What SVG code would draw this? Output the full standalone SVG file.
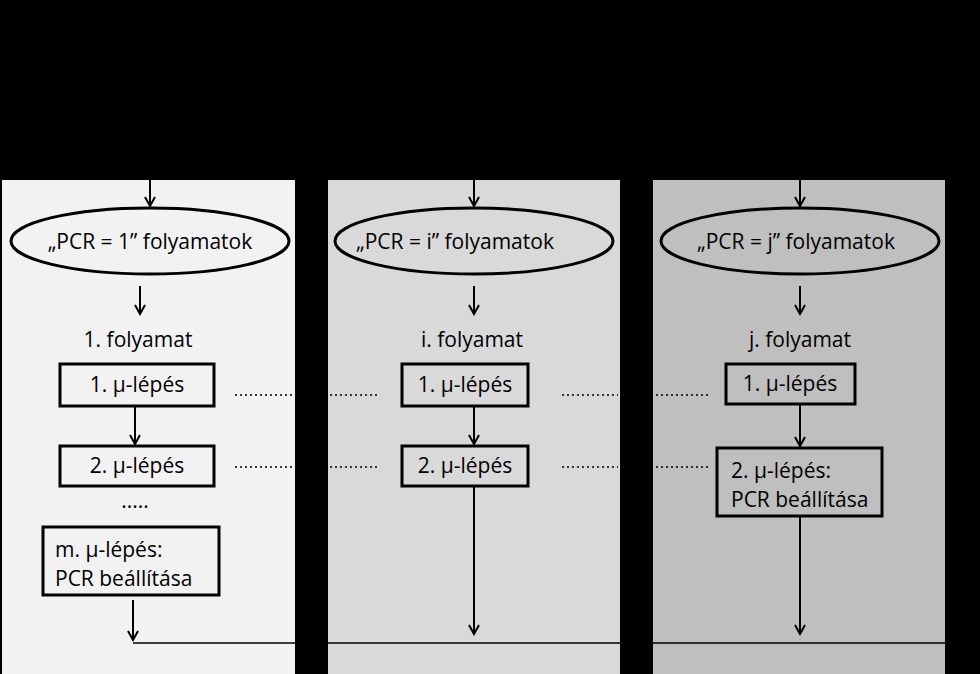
<svg xmlns="http://www.w3.org/2000/svg" width="980" height="674" viewBox="0 0 980 674">
<defs>
<marker id="ah" markerWidth="12" markerHeight="12" refX="10" refY="6" orient="auto" markerUnits="userSpaceOnUse"><path d="M1,1 L10,6 L1,11" fill="none" stroke="#000" stroke-width="2"/></marker>
<style>
text{font-family:"Open Sans","Liberation Sans",sans-serif;font-size:21px;fill:#000;text-anchor:middle}
.b{fill:none;stroke:#000;stroke-width:3}
.c{stroke:#000;stroke-width:2;fill:none}
.d{stroke:#000;stroke-width:1.5;stroke-dasharray:2 3;fill:none}
</style>
</defs>
<rect width="980" height="674" fill="#000"/>
<rect x="2" y="180" width="293" height="494" fill="#f2f2f2"/>
<rect x="328" y="180" width="292" height="494" fill="#d9d9d9"/>
<rect x="653" y="180" width="292" height="494" fill="#bfbfbf"/>
<g id="connectors">
<line class="c" x1="150" y1="180" x2="150" y2="206" marker-end="url(#ah)"/>
<line class="c" x1="474" y1="180" x2="474" y2="206" marker-end="url(#ah)"/>
<line class="c" x1="800" y1="180" x2="800" y2="206" marker-end="url(#ah)"/>
<line class="c" x1="140" y1="286" x2="140" y2="314" marker-end="url(#ah)"/>
<line class="c" x1="474" y1="286" x2="474" y2="314" marker-end="url(#ah)"/>
<line class="c" x1="800" y1="286" x2="800" y2="314" marker-end="url(#ah)"/>
<line class="c" x1="135" y1="406" x2="135" y2="444" marker-end="url(#ah)"/>
<line class="c" x1="474" y1="406" x2="474" y2="444" marker-end="url(#ah)"/>
<line class="c" x1="800" y1="404" x2="800" y2="446" marker-end="url(#ah)"/>
<line class="c" x1="474" y1="486" x2="474" y2="634" marker-end="url(#ah)"/>
<line class="c" x1="800" y1="516" x2="800" y2="634" marker-end="url(#ah)"/>
<line class="c" x1="133" y1="600" x2="133" y2="640" marker-end="url(#ah)"/>
<line stroke="#000" stroke-width="1.5" x1="133" y1="643" x2="945" y2="643"/>
<line class="d" x1="235" y1="395" x2="292" y2="395"/>
<line class="d" x1="330" y1="395" x2="380" y2="395"/>
<line class="d" x1="562" y1="395" x2="618" y2="395"/>
<line class="d" x1="656" y1="395" x2="708" y2="395"/>
<line class="d" x1="235" y1="467" x2="292" y2="467"/>
<line class="d" x1="330" y1="467" x2="380" y2="467"/>
<line class="d" x1="562" y1="467" x2="618" y2="467"/>
<line class="d" x1="656" y1="467" x2="708" y2="467"/>
</g>
<g id="e1"><ellipse class="b" cx="150" cy="241" rx="139" ry="33"/><text x="150" y="249">„PCR = 1” folyamatok</text></g>
<g id="e2"><ellipse class="b" cx="474" cy="241" rx="139" ry="33"/><text x="455" y="249">„PCR = i” folyamatok</text></g>
<g id="e3"><ellipse class="b" cx="800" cy="241" rx="139" ry="33"/><text x="796" y="249">„PCR = j” folyamatok</text></g>
<g id="l1"><text x="138" y="347">1. folyamat</text></g>
<g id="l2"><text x="472" y="347">i. folyamat</text></g>
<g id="l3"><text x="800" y="347">j. folyamat</text></g>
<g id="b11"><rect class="b" x="60" y="364" width="154" height="42"/><text x="137" y="392">1. μ-lépés</text></g>
<g id="b12"><rect class="b" x="60" y="446" width="154" height="40"/><text x="137" y="473">2. μ-lépés</text></g>
<g id="dots"><text x="135" y="508">.....</text></g>
<g id="b1m"><rect class="b" x="43" y="527" width="176" height="68"/><text x="55" y="557" style="text-anchor:start">m. μ-lépés:</text><text x="55" y="586" style="text-anchor:start">PCR beállítása</text></g>
<g id="b21"><rect class="b" x="402" y="364" width="126" height="42"/><text x="465" y="392">1. μ-lépés</text></g>
<g id="b22"><rect class="b" x="402" y="446" width="126" height="40"/><text x="465" y="473">2. μ-lépés</text></g>
<g id="b31"><rect class="b" x="726" y="364" width="129" height="40"/><text x="790" y="391">1. μ-lépés</text></g>
<g id="b32"><rect class="b" x="717" y="448" width="165" height="68"/><text x="731" y="478" style="text-anchor:start">2. μ-lépés:</text><text x="731" y="507" style="text-anchor:start">PCR beállítása</text></g>
</svg>
